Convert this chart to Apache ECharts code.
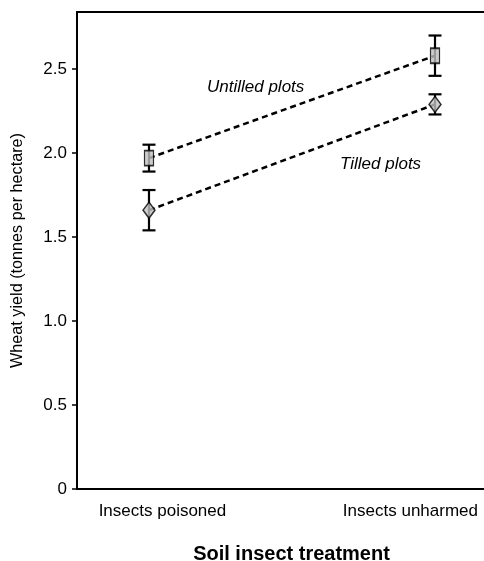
<!DOCTYPE html>
<html>
<head>
<meta charset="utf-8">
<script src="https://cdn.jsdelivr.net/npm/echarts@6/dist/echarts.min.js"></script>
<style>html,body{margin:0;padding:0;background:#fff}#c{width:484px;height:561px}</style>
</head>
<body>
<div id="c"></div>
<script>
const categories = ['Insects poisoned', 'Insects unharmed'];
const untilledMean = [1.97, 2.58];
const untilledErr = [0.08, 0.12];
const tilledMean = [1.66, 2.29];
const tilledErr = [0.12, 0.06];
const yTicks = [0, 0.5, 1.0, 1.5, 2.0, 2.5];

const catX = [0, 1];
const labelX = [0.047, 0.914];

const chart = echarts.init(document.getElementById('c'));
const FONT = 'Liberation Sans, Arial, sans-serif';

function errData(means, errs) {
  return means.map((m, i) => [catX[i], m - errs[i], m + errs[i]]);
}
function errSeries(means, errs) {
  return {
    type: 'custom',
    data: errData(means, errs),
    z: 3,
    renderItem: function (params, api) {
      const x = api.value(0);
      const lo = api.coord([x, api.value(1)]);
      const hi = api.coord([x, api.value(2)]);
      const w = 6.5;
      const st = { stroke: '#000', lineWidth: 2.2 };
      return {
        type: 'group',
        children: [
          { type: 'line', shape: { x1: lo[0], y1: lo[1], x2: hi[0], y2: hi[1] }, style: st },
          { type: 'line', shape: { x1: lo[0] - w, y1: lo[1], x2: lo[0] + w, y2: lo[1] }, style: st },
          { type: 'line', shape: { x1: hi[0] - w, y1: hi[1], x2: hi[0] + w, y2: hi[1] }, style: st }
        ]
      };
    }
  };
}

const option = {
  animation: false,
  backgroundColor: '#fff',
  grid: { left: 77, top: 12, right: 0, bottom: 72, containLabel: false, outerBoundsMode: 'none' },
  xAxis: [{
    type: 'value',
    min: -0.2517,
    max: 1.1713,
    axisLine: { show: true, onZero: false, lineStyle: { color: '#000', width: 2 } },
    axisTick: { show: false },
    splitLine: { show: false },
    axisLabel: {
      customValues: labelX,
      formatter: function (v) {
        const i = labelX.findIndex(p => Math.abs(p - v) < 1e-6);
        return i >= 0 ? categories[i] : '';
      },
      color: '#000', fontSize: 17, fontFamily: FONT, margin: 14
    },
    name: 'Soil insect treatment',
    nameLocation: 'middle',
    nameGap: 55,
    nameTextStyle: { color: '#000', fontSize: 20, fontWeight: 'bold', fontFamily: FONT, padding: [0, 0, 0, 22] }
  }, {
    type: 'value',
    position: 'top',
    min: -0.2517,
    max: 1.1713,
    axisLine: { show: true, onZero: false, lineStyle: { color: '#000', width: 2 } },
    axisTick: { show: false },
    axisLabel: { show: false },
    splitLine: { show: false }
  }],
  yAxis: {
    type: 'value',
    min: 0,
    max: 2.84,
    interval: 0.5,
    axisLine: { show: true, onZero: false, lineStyle: { color: '#000', width: 2 } },
    axisTick: { show: true, length: 5, lineStyle: { color: '#000', width: 1.5 },
      customValues: yTicks },
    splitLine: { show: false },
    axisLabel: {
      customValues: yTicks,
      formatter: function (v) { return v === 0 ? '0' : v.toFixed(1); },
      color: '#000', fontSize: 17, fontFamily: FONT, margin: 10
    },
    name: 'Wheat yield (tonnes per hectare)',
    nameLocation: 'middle',
    nameGap: 51,
    nameTextStyle: { color: '#000', fontSize: 16.2, fontFamily: FONT }
  },
  series: [
    {
      type: 'line',
      data: untilledMean.map((v, i) => [catX[i], v]),
      showSymbol: false,
      lineStyle: { color: '#000', width: 2.5, type: [6, 4] },
      z: 2
    },
    {
      type: 'line',
      data: tilledMean.map((v, i) => [catX[i], v]),
      showSymbol: false,
      lineStyle: { color: '#000', width: 2.5, type: [6, 4] },
      z: 2
    },
    errSeries(untilledMean, untilledErr),
    errSeries(tilledMean, tilledErr),
    {
      type: 'scatter',
      data: untilledMean.map((v, i) => [catX[i], v]),
      symbol: 'rect',
      symbolSize: [9, 15],
      itemStyle: { color: '#c0c0c0', borderColor: '#000', borderWidth: 1.5 },
      z: 5
    },
    {
      type: 'scatter',
      data: tilledMean.map((v, i) => [catX[i], v]),
      symbol: 'diamond',
      symbolSize: [12, 16],
      itemStyle: { color: '#c0c0c0', borderColor: '#000', borderWidth: 1.5 },
      z: 5
    }
  ],
  graphic: [
    { type: 'text', left: 207, top: 79, style: { text: 'Untilled plots', fontSize: 17, fontStyle: 'italic', fontFamily: FONT, fill: '#000' } },
    { type: 'text', left: 340, top: 156, style: { text: 'Tilled plots', fontSize: 17, fontStyle: 'italic', fontFamily: FONT, fill: '#000' } }
  ]
};
chart.setOption(option);
</script>
</body>
</html>
